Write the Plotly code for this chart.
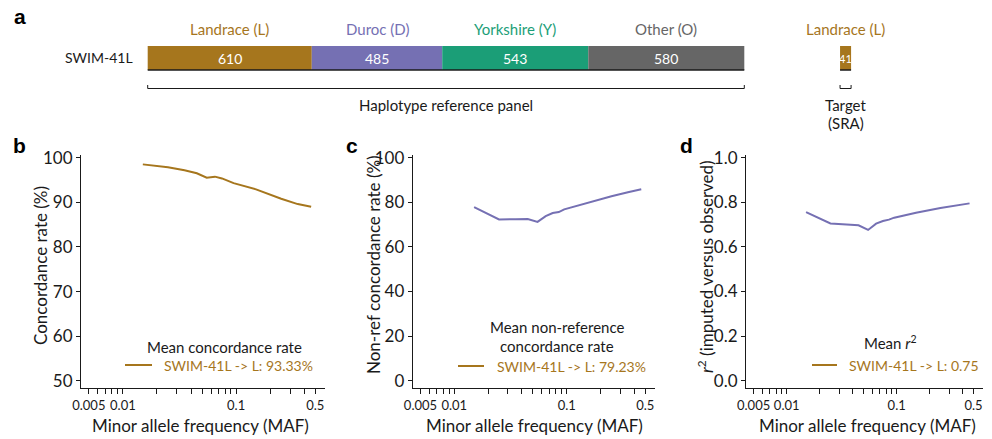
import plotly.graph_objects as go

# ---------------- data ----------------
breeds = ["Landrace (L)", "Duroc (D)", "Yorkshire (Y)", "Other (O)"]
panel_counts = [610, 485, 543, 580]
breed_colors = ["#A6761D", "#7570B3", "#1B9E77", "#666666"]
row_label = "SWIM-41L"
target_label = "Landrace (L)"
target_count = 41
target_start = 2574  # position (haplotype units) where target bar starts

maf = [0.015, 0.025, 0.035, 0.045, 0.055, 0.065, 0.075, 0.085, 0.095, 0.15, 0.25, 0.35, 0.46]
concordance = [98.5, 97.85, 97.2, 96.5, 95.5, 95.75, 95.35, 94.8, 94.3, 92.9, 90.8, 89.6, 89.0]
nonref_concordance = [77.8, 72.3, 72.4, 72.5, 71.2, 73.8, 75.2, 75.6, 76.8, 79.7, 82.7, 84.5, 85.8]
r2_values = [0.756, 0.705, 0.700, 0.697, 0.676, 0.704, 0.716, 0.722, 0.731, 0.753, 0.774, 0.786, 0.795]

x_major_ticks = [0.005, 0.01, 0.1, 0.5]
x_major_labels = ["0.005", "0.01", "0.1", "0.5"]
x_minor_ticks = [0.006, 0.007, 0.008, 0.009, 0.02, 0.03, 0.04, 0.05, 0.06, 0.07, 0.08, 0.09,
                 0.2, 0.3, 0.4]

legend_b = "SWIM-41L -> L: 93.33%"
legend_c = "SWIM-41L -> L: 79.23%"
legend_d = "SWIM-41L -> L: 0.75"

# ---------------- style ----------------
FONT = "Lato"
DARK = "#1a1a1a"
GOLD = "#A6761D"
PURPLE = "#7570B3"
W, H = 992, 439


def px(x):
    return x / W


def py(y):
    return 1 - y / H


fig = go.Figure()

# ---------- panel a: bars ----------
bases = []
acc = 0
for c in panel_counts:
    bases.append(acc)
    acc += c
total = acc

fig.add_trace(go.Bar(
    x=panel_counts, y=[0] * len(panel_counts), base=bases, orientation="h",
    marker=dict(color=breed_colors, line=dict(width=0)), width=1,
    xaxis="x4", yaxis="y4", showlegend=False, hoverinfo="skip"))
fig.add_trace(go.Bar(
    x=[target_count], y=[0], base=[target_start], orientation="h",
    marker=dict(color=breed_colors[0], line=dict(width=0)), width=1,
    xaxis="x4", yaxis="y4", showlegend=False, hoverinfo="skip"))

annotations = []
shapes = []

for name, cnt, b, col in zip(breeds, panel_counts, bases, breed_colors):
    mid = b + cnt / 2
    annotations.append(dict(x=mid, y=py(29), xref="x4", yref="paper", text=name, showarrow=False,
                            font=dict(family=FONT, size=15, color=col), xanchor="center", yanchor="middle"))
    annotations.append(dict(x=mid, y=0, xref="x4", yref="y4", text=str(cnt), showarrow=False,
                            font=dict(family=FONT, size=14, color="white"), xanchor="center", yanchor="middle"))

tmid = target_start + target_count / 2
annotations.append(dict(x=tmid, y=py(29), xref="x4", yref="paper", text=target_label, showarrow=False,
                        font=dict(family=FONT, size=15, color=breed_colors[0]), xanchor="center", yanchor="middle"))
annotations.append(dict(x=tmid, y=0, xref="x4", yref="y4", text=str(target_count), showarrow=False,
                        font=dict(family=FONT, size=11, color="white"), xanchor="center", yanchor="middle"))
annotations.append(dict(x=px(135), y=py(58), xref="paper", yref="paper", text=row_label, showarrow=False,
                        font=dict(family=FONT, size=14, color=DARK), xanchor="right", yanchor="middle"))
annotations.append(dict(x=total / 2, y=py(105), xref="x4", yref="paper", text="Haplotype reference panel",
                        showarrow=False, font=dict(family=FONT, size=15, color=DARK),
                        xanchor="center", yanchor="middle"))
annotations.append(dict(x=tmid, y=py(105), xref="x4", yref="paper", text="Target", showarrow=False,
                        font=dict(family=FONT, size=15, color=DARK), xanchor="center", yanchor="middle"))
annotations.append(dict(x=tmid, y=py(123), xref="x4", yref="paper", text="(SRA)", showarrow=False,
                        font=dict(family=FONT, size=15, color=DARK), xanchor="center", yanchor="middle"))

# underline of bars
for x0, x1 in [(0, total), (target_start, target_start + target_count)]:
    shapes.append(dict(type="line", xref="x4", yref="paper", x0=x0, x1=x1, y0=py(70), y1=py(70),
                       line=dict(color=DARK, width=1.5)))
    # brackets
    shapes.append(dict(type="path", xref="x4", yref="paper",
                       path=f"M {x0},{py(85)} L {x0},{py(88.5)} L {x1},{py(88.5)} L {x1},{py(85)}",
                       line=dict(color=DARK, width=1)))

# ---------- panels b, c, d ----------
fig.add_trace(go.Scatter(x=maf, y=concordance, mode="lines", line=dict(color=GOLD, width=2),
                         xaxis="x", yaxis="y", showlegend=False))
fig.add_trace(go.Scatter(x=maf, y=nonref_concordance, mode="lines", line=dict(color=PURPLE, width=2),
                         xaxis="x2", yaxis="y2", showlegend=False))
fig.add_trace(go.Scatter(x=maf, y=r2_values, mode="lines", line=dict(color=PURPLE, width=2),
                         xaxis="x3", yaxis="y3", showlegend=False))

ydom = [py(388), py(155)]


def xaxis_cfg(x0, x1, anchor):
    return dict(type="log", range=[-2.37, -0.215], domain=[px(x0), px(x1)], anchor=anchor,
                automargin=False,
                showline=True, linecolor=DARK, linewidth=1, ticks="outside", ticklen=5, tickwidth=1,
                tickcolor=DARK, tickmode="array", tickvals=x_major_ticks, ticktext=x_major_labels,
                tickangle=0, showgrid=False, zeroline=False,
                minor=dict(tickmode="array", tickvals=x_minor_ticks, ticks="outside", ticklen=5,
                           tickwidth=1, tickcolor=DARK, showgrid=False),
                tickfont=dict(family=FONT, size=13, color=DARK))


def yaxis_cfg(rng, tickvals, ticktext, anchor):
    return dict(range=rng, domain=ydom, anchor=anchor, automargin=False,
                showline=True, linecolor=DARK, linewidth=1,
                ticks="outside", ticklen=4, tickwidth=1, tickcolor=DARK, tickvals=tickvals, ticktext=ticktext,
                showgrid=False, zeroline=False, tickfont=dict(family=FONT, size=17, color=DARK))


yb = [50, 60, 70, 80, 90, 100]
yc = [0, 20, 40, 60, 80, 100]
yd = [0.0, 0.2, 0.4, 0.6, 0.8, 1.0]

layout = dict(
    width=W, height=H, margin=dict(l=0, r=0, t=0, b=0, pad=0), autosize=False,
    paper_bgcolor="white", plot_bgcolor="white", barmode="overlay", showlegend=False,
    xaxis=xaxis_cfg(81, 325, "y"),
    yaxis=yaxis_cfg([48.4, 100.6], yb, [str(v) for v in yb], "x"),
    xaxis2=xaxis_cfg(412.7, 655, "y2"),
    yaxis2=yaxis_cfg([-3.3, 101.2], yc, [str(v) for v in yc], "x2"),
    xaxis3=xaxis_cfg(746, 983, "y3"),
    yaxis3=yaxis_cfg([-0.033, 1.012], yd, [f"{v:.1f}" for v in yd], "x3"),
    xaxis4=dict(domain=[0, 1], range=[-147.7 / 0.26898, (W - 147.7) / 0.26898], visible=False,
                anchor="y4", automargin=False),
    yaxis4=dict(domain=[py(70), py(46)], range=[-0.5, 0.5], visible=False, anchor="x4", automargin=False),
)

# axis titles
xtitle = "Minor allele frequency (MAF)"
for cx in [200, 534, 867]:
    annotations.append(dict(x=px(cx), y=py(425), xref="paper", yref="paper", text=xtitle, showarrow=False,
                            font=dict(family=FONT, size=17, color=DARK), xanchor="center", yanchor="middle"))
for cx, cy, t in [(40, 266, "Concordance rate (%)"),
                  (373, 265, "Non-ref concordance rate (%)"),
                  (705, 267, "<i>r</i><sup>2</sup> (imputed versus observed)")]:
    annotations.append(dict(x=px(cx), y=py(cy), xref="paper", yref="paper", text=t, showarrow=False,
                            textangle=-90, font=dict(family=FONT, size=17, color=DARK),
                            xanchor="center", yanchor="middle"))

# panel letters
for cx, cy, t in [(20, 17, "a"), (19, 145, "b"), (352, 145, "c"), (686, 145, "d")]:
    annotations.append(dict(x=px(cx), y=py(cy), xref="paper", yref="paper", text=f"<b>{t}</b>",
                            showarrow=False, font=dict(family="Liberation Sans", size=21, color="black"),
                            xanchor="center", yanchor="middle"))

# legends (title + line sample + label)
legends = [
    (["Mean concordance rate"], [347], 224, (125, 152), 365, 162, legend_b),
    (["Mean non-reference", "concordance rate"], [327, 346], 557, (458, 484), 366, 495, legend_c),
    (["Mean <i>r</i><sup>2</sup>"], [342], 890, (812, 837), 365, 847, legend_d),
]
for titles, tys, tcx, (lx0, lx1), ly, tx, lab in legends:
    for t, ty in zip(titles, tys):
        annotations.append(dict(x=px(tcx), y=py(ty), xref="paper", yref="paper", text=t, showarrow=False,
                                font=dict(family=FONT, size=15, color=DARK), xanchor="center", yanchor="middle"))
    shapes.append(dict(type="line", xref="paper", yref="paper", x0=px(lx0), x1=px(lx1), y0=py(ly), y1=py(ly),
                       line=dict(color=GOLD, width=2)))
    annotations.append(dict(x=px(tx), y=py(ly), xref="paper", yref="paper", text=lab, showarrow=False,
                            font=dict(family=FONT, size=14, color=GOLD), xanchor="left", yanchor="middle"))

layout["annotations"] = annotations
layout["shapes"] = shapes
fig.update_layout(**layout)

fig.write_html("out.html")
